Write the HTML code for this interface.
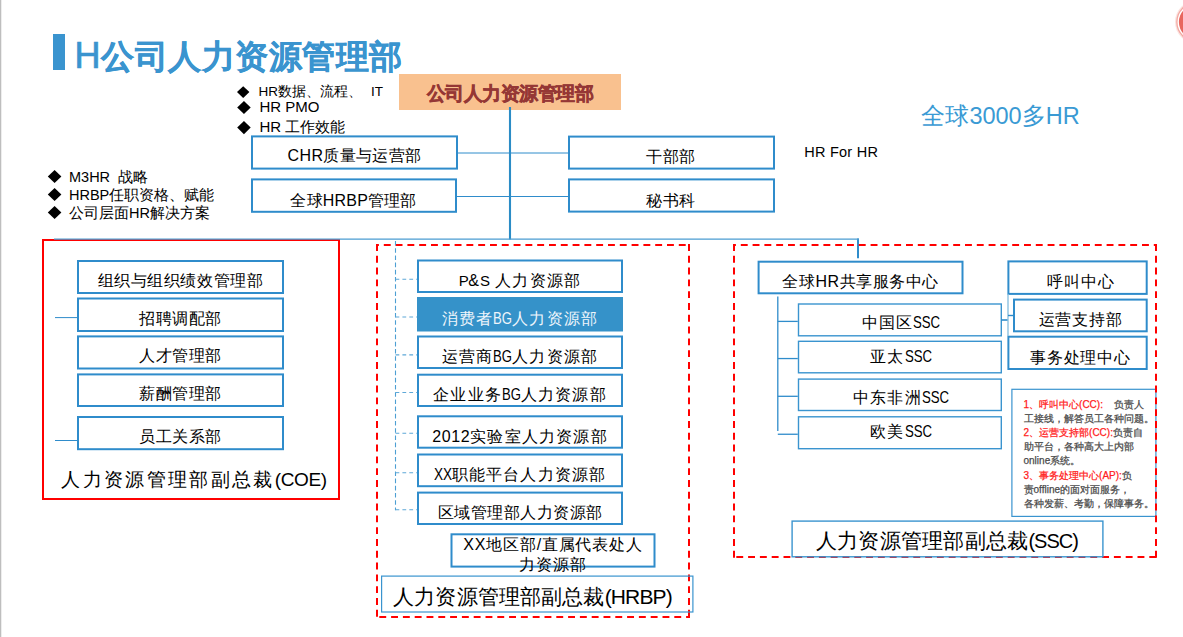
<!DOCTYPE html>
<html><head><meta charset="utf-8"><style>
html,body{margin:0;padding:0;background:#fff;}
body{width:1183px;height:637px;position:relative;overflow:hidden;font-family:"Liberation Sans",sans-serif;}
svg{position:absolute;left:0;top:0;}
.t{position:absolute;white-space:nowrap;}
.r{color:#ff2020;}
</style></head><body>
<svg width="1183" height="637" viewBox="0 0 1183 637">
<rect x="53" y="34" width="12" height="36" fill="#3a94cf"/>
<rect x="399" y="74" width="222" height="36" fill="#f9c18f"/>
<line x1="510" y1="107" x2="510" y2="239.5" stroke="#2b8cc6" stroke-width="2.1"/>
<line x1="858" y1="238.6" x2="858" y2="258.2" stroke="#2f8ccb" stroke-width="2"/>
<rect x="252.00" y="136.40" width="205.00" height="32.20" fill="none" stroke="#2f8ccb" stroke-width="2"/>
<rect x="252.00" y="179.40" width="204.00" height="32.40" fill="none" stroke="#2f8ccb" stroke-width="2"/>
<rect x="569.00" y="136.60" width="205.00" height="32.00" fill="none" stroke="#2f8ccb" stroke-width="2"/>
<rect x="569.00" y="179.40" width="205.00" height="32.20" fill="none" stroke="#2f8ccb" stroke-width="2"/>
<line x1="458" y1="153" x2="568" y2="153" stroke="#2f8ccb" stroke-width="1"/>
<line x1="457" y1="196.5" x2="568" y2="196.5" stroke="#2f8ccb" stroke-width="1"/>
<polygon points="243.2,86.2 249.4,92.1 243.2,98 237,92.1" fill="#000"/>
<polygon points="243.95,101 250.7,107.5 243.95,114 237.2,107.5" fill="#000"/>
<polygon points="243.95,121 250.7,127.6 243.95,134.2 237.2,127.6" fill="#000"/>
<polygon points="54.599999999999994,170 61.4,176.5 54.599999999999994,183 47.8,176.5" fill="#000"/>
<polygon points="54.599999999999994,188 61.4,194.5 54.599999999999994,201 47.8,194.5" fill="#000"/>
<polygon points="54.599999999999994,206 61.4,212.5 54.599999999999994,219 47.8,212.5" fill="#000"/>
<rect x="43.00" y="240.00" width="296.00" height="259.00" fill="none" stroke="#ff0000" stroke-width="2"/>
<line x1="54" y1="239.1" x2="858.9" y2="239.1" stroke="#4a9cd2" stroke-width="1.1"/>
<rect x="78.00" y="261.00" width="205.00" height="32.00" fill="none" stroke="#2f8ccb" stroke-width="2"/>
<rect x="78.00" y="298.50" width="205.00" height="32.50" fill="none" stroke="#2f8ccb" stroke-width="2"/>
<rect x="78.00" y="336.40" width="205.00" height="32.10" fill="none" stroke="#2f8ccb" stroke-width="2"/>
<rect x="78.00" y="374.40" width="205.00" height="31.60" fill="none" stroke="#2f8ccb" stroke-width="2"/>
<rect x="78.00" y="417.00" width="205.00" height="32.20" fill="none" stroke="#2f8ccb" stroke-width="2"/>
<line x1="55" y1="317.6" x2="77" y2="317.6" stroke="#2f8ccb" stroke-width="1"/>
<line x1="55" y1="440.5" x2="77" y2="440.5" stroke="#2f8ccb" stroke-width="1"/>
<line x1="376.0" y1="245.0" x2="690.0" y2="245.0" stroke="#ff0000" stroke-width="2" stroke-dasharray="6.9 4.9" stroke-dashoffset="4.0"/>
<line x1="377.0" y1="244.0" x2="377.0" y2="618.0" stroke="#ff0000" stroke-width="2" stroke-dasharray="6.9 4.9" stroke-dashoffset="0"/>
<line x1="689.0" y1="244.0" x2="689.0" y2="618.0" stroke="#ff0000" stroke-width="2" stroke-dasharray="6.9 4.9" stroke-dashoffset="0"/>
<line x1="376.0" y1="617.0" x2="690.0" y2="617.0" stroke="#ff0000" stroke-width="2" stroke-dasharray="6.9 4.9" stroke-dashoffset="8.5"/>
<line x1="395.5" y1="241" x2="395.5" y2="510.3" stroke="#4d9fd3" stroke-width="1.1" stroke-dasharray="4.6 2.6"/>
<rect x="418.00" y="260.50" width="204.00" height="31.50" fill="none" stroke="#2f8ccb" stroke-width="2"/>
<line x1="395.5" y1="279.3" x2="417" y2="279.3" stroke="#5ea8d8" stroke-width="1.1" stroke-dasharray="3.8 3.1"/>
<rect x="417" y="297" width="206" height="34.5" fill="#3592c9"/>
<line x1="395.5" y1="317" x2="417" y2="317" stroke="#5ea8d8" stroke-width="1.1" stroke-dasharray="3.8 3.1"/>
<rect x="418.00" y="336.50" width="204.00" height="31.50" fill="none" stroke="#2f8ccb" stroke-width="2"/>
<line x1="395.5" y1="354.9" x2="417" y2="354.9" stroke="#5ea8d8" stroke-width="1.1" stroke-dasharray="3.8 3.1"/>
<rect x="418.00" y="374.70" width="204.00" height="31.30" fill="none" stroke="#2f8ccb" stroke-width="2"/>
<line x1="395.5" y1="392.5" x2="417" y2="392.5" stroke="#5ea8d8" stroke-width="1.1" stroke-dasharray="3.8 3.1"/>
<rect x="418.00" y="416.30" width="204.00" height="31.40" fill="none" stroke="#2f8ccb" stroke-width="2"/>
<line x1="395.5" y1="433.3" x2="417" y2="433.3" stroke="#5ea8d8" stroke-width="1.1" stroke-dasharray="3.8 3.1"/>
<rect x="418.00" y="454.50" width="204.00" height="31.70" fill="none" stroke="#2f8ccb" stroke-width="2"/>
<line x1="395.5" y1="472.8" x2="417" y2="472.8" stroke="#5ea8d8" stroke-width="1.1" stroke-dasharray="3.8 3.1"/>
<rect x="418.00" y="492.60" width="204.00" height="31.40" fill="none" stroke="#2f8ccb" stroke-width="2"/>
<line x1="395.5" y1="509.7" x2="417" y2="509.7" stroke="#5ea8d8" stroke-width="1.1" stroke-dasharray="3.8 3.1"/>
<rect x="451.50" y="534.30" width="203.00" height="32.30" fill="none" stroke="#2f8ccb" stroke-width="2"/>
<rect x="381.60" y="576.10" width="311.30" height="35.90" fill="none" stroke="#3a94cf" stroke-width="1.2"/>
<rect x="758.60" y="261.70" width="203.90" height="31.60" fill="none" stroke="#2f8ccb" stroke-width="2"/>
<line x1="777.8" y1="296.5" x2="777.8" y2="431" stroke="#2f8ccb" stroke-width="1.3"/>
<rect x="798.50" y="304.00" width="202.80" height="31.80" fill="none" stroke="#3a94cf" stroke-width="1.4"/>
<line x1="777.8" y1="321.4" x2="797.8" y2="321.4" stroke="#2f8ccb" stroke-width="1.3"/>
<rect x="798.50" y="341.30" width="202.80" height="31.50" fill="none" stroke="#3a94cf" stroke-width="1.4"/>
<line x1="777.8" y1="358.55" x2="797.8" y2="358.55" stroke="#2f8ccb" stroke-width="1.3"/>
<rect x="798.50" y="379.10" width="202.80" height="31.40" fill="none" stroke="#3a94cf" stroke-width="1.4"/>
<line x1="777.8" y1="396.29999999999995" x2="797.8" y2="396.29999999999995" stroke="#2f8ccb" stroke-width="1.3"/>
<rect x="798.50" y="416.80" width="202.80" height="31.90" fill="none" stroke="#3a94cf" stroke-width="1.4"/>
<line x1="777.8" y1="434.25" x2="797.8" y2="434.25" stroke="#2f8ccb" stroke-width="1.3"/>
<rect x="1008.40" y="261.40" width="138.30" height="32.50" fill="none" stroke="#2f8ccb" stroke-width="2"/>
<rect x="1014.00" y="299.60" width="132.70" height="31.70" fill="none" stroke="#2f8ccb" stroke-width="2"/>
<rect x="1008.40" y="336.70" width="138.30" height="32.30" fill="none" stroke="#2f8ccb" stroke-width="2"/>
<line x1="1001" y1="320" x2="1008" y2="320" stroke="#2f8ccb" stroke-width="1.6"/>
<line x1="1008" y1="294" x2="1008" y2="336" stroke="#8cc0e0" stroke-width="1.4"/>
<line x1="1008" y1="315.5" x2="1013" y2="315.5" stroke="#2f8ccb" stroke-width="1.4"/>
<rect x="1011.90" y="389.30" width="144.00" height="127.10" fill="none" stroke="#3a94cf" stroke-width="1.2"/>
<line x1="733.0" y1="245.0" x2="1157.0" y2="245.0" stroke="#ff0000" stroke-width="2" stroke-dasharray="6.9 4.9" stroke-dashoffset="4.0"/>
<line x1="734.0" y1="244.0" x2="734.0" y2="558.0" stroke="#ff0000" stroke-width="2" stroke-dasharray="6.9 4.9" stroke-dashoffset="0"/>
<line x1="1156.0" y1="244.0" x2="1156.0" y2="558.0" stroke="#ff0000" stroke-width="2" stroke-dasharray="6.9 4.9" stroke-dashoffset="0"/>
<line x1="733.0" y1="557.0" x2="1157.0" y2="557.0" stroke="#ff0000" stroke-width="2" stroke-dasharray="6.9 4.9" stroke-dashoffset="8.5"/>
<rect x="792.10" y="521.10" width="310.80" height="35.70" fill="none" stroke="#3a94cf" stroke-width="1.4"/>
<rect x="0" y="0" width="1" height="637" fill="#bebebe"/><rect x="1" y="0" width="0.6" height="637" fill="#e2e2e2"/>
<circle cx="1196.5" cy="22" r="21.5" fill="#fbe3e0"/><circle cx="1196.5" cy="22" r="20.3" fill="#f3a9a2"/><circle cx="1196.5" cy="22" r="19" fill="#fff"/><circle cx="1196.5" cy="22" r="17.6" fill="#e8675e"/>
</svg>
<div class="t" style="left:74.60px;top:30.50px;font-size:36px;line-height:50px;color:#3a94cf;text-align:left;-webkit-text-stroke:0.7px #3a94cf;">H</div>
<div class="t" style="left:101.20px;top:31.80px;font-size:33px;line-height:50px;color:#3a94cf;letter-spacing:0.5px;font-weight:bold;text-align:left;-webkit-text-stroke:0.3px #3a94cf;">公司人力资源管理部</div>
<div class="t" style="left:399.20px;top:80.50px;font-size:18.5px;line-height:26px;color:#953735;width:222px;letter-spacing:-0.5px;font-weight:bold;text-align:center;-webkit-text-stroke:0.5px #953735;">公司人力资源管理部</div>
<div class="t" style="left:254.50px;top:145.30px;font-size:16px;line-height:22px;color:#000;width:200px;letter-spacing:0.35px;text-align:center;">CHR质量与运营部</div>
<div class="t" style="left:253.50px;top:189.50px;font-size:16px;line-height:22px;color:#000;width:200px;letter-spacing:0.2px;text-align:center;">全球HRBP管理部</div>
<div class="t" style="left:571.00px;top:146.00px;font-size:16px;line-height:22px;color:#000;width:200px;letter-spacing:0.5px;text-align:center;">干部部</div>
<div class="t" style="left:571.00px;top:190.00px;font-size:16px;line-height:22px;color:#000;width:200px;letter-spacing:0.5px;text-align:center;">秘书科</div>
<div class="t" style="left:258.50px;top:83.00px;font-size:13.5px;line-height:18px;color:#000;text-align:left;">HR数据、流程、<span style="margin-left:9px">IT</span></div>
<div class="t" style="left:259.50px;top:98.00px;font-size:15px;line-height:18px;color:#000;text-align:left;">HR PMO</div>
<div class="t" style="left:259.50px;top:118.00px;font-size:15px;line-height:18px;color:#000;text-align:left;">HR 工作效能</div>
<div class="t" style="left:804.20px;top:143.00px;font-size:14.5px;line-height:18px;color:#000;letter-spacing:0.25px;text-align:left;">HR For HR</div>
<div class="t" style="left:921.40px;top:101.00px;font-size:23.5px;line-height:30px;color:#3a9ad4;text-align:left;">全球3000多HR</div>
<div class="t" style="left:69.00px;top:168.00px;font-size:14.5px;line-height:18px;color:#000;text-align:left;">M3HR&nbsp; 战略</div>
<div class="t" style="left:69.00px;top:186.00px;font-size:14.5px;line-height:18px;color:#000;text-align:left;">HRBP任职资格、赋能</div>
<div class="t" style="left:69.00px;top:204.00px;font-size:14.5px;line-height:18px;color:#000;text-align:left;">公司层面HR解决方案</div>
<div class="t" style="left:77.00px;top:270.00px;font-size:16px;line-height:22px;color:#000;width:207px;letter-spacing:0.6px;text-align:center;">组织与组织绩效管理部</div>
<div class="t" style="left:77.00px;top:307.75px;font-size:16px;line-height:22px;color:#000;width:207px;letter-spacing:0.6px;text-align:center;">招聘调配部</div>
<div class="t" style="left:77.00px;top:345.45px;font-size:16px;line-height:22px;color:#000;width:207px;letter-spacing:0.6px;text-align:center;">人才管理部</div>
<div class="t" style="left:77.00px;top:383.20px;font-size:16px;line-height:22px;color:#000;width:207px;letter-spacing:0.6px;text-align:center;">薪酬管理部</div>
<div class="t" style="left:77.00px;top:426.10px;font-size:16px;line-height:22px;color:#000;width:207px;letter-spacing:0.6px;text-align:center;">员工关系部</div>
<div class="t" style="left:44.00px;top:466.00px;font-size:19px;line-height:28px;color:#000;width:300px;letter-spacing:2.35px;text-align:center;">人力资源管理部副总裁<span style="letter-spacing:-0.4px;">(COE)</span></div>
<div class="t" style="left:417.00px;top:269.95px;font-size:16px;line-height:22px;color:#000;width:206px;letter-spacing:1.2px;text-align:center;"><span style="letter-spacing:-0.5px;font-size:15px;">P</span>&amp;<span style="letter-spacing:-0.5px;font-size:15px;">S</span> 人力资源部</div>
<div class="t" style="left:417.00px;top:307.95px;font-size:16px;line-height:22px;color:#eef5fb;width:206px;letter-spacing:1.2px;text-align:center;">消费者<span style="letter-spacing:0px;font-size:16px;display:inline-block;transform:scaleX(0.82);transform-origin:0 50%;margin-right:-4.16px;">BG</span>人力资源部</div>
<div class="t" style="left:417.00px;top:345.95px;font-size:16px;line-height:22px;color:#000;width:206px;letter-spacing:1.2px;text-align:center;">运营商<span style="letter-spacing:0px;font-size:16px;display:inline-block;transform:scaleX(0.82);transform-origin:0 50%;margin-right:-4.16px;">BG</span>人力资源部</div>
<div class="t" style="left:417.00px;top:384.05px;font-size:16px;line-height:22px;color:#000;width:206px;letter-spacing:1.2px;text-align:center;">企业业务<span style="letter-spacing:0px;font-size:16px;display:inline-block;transform:scaleX(0.82);transform-origin:0 50%;margin-right:-4.16px;">BG</span>人力资源部</div>
<div class="t" style="left:417.00px;top:425.70px;font-size:16px;line-height:22px;color:#000;width:206px;letter-spacing:1.2px;text-align:center;"><span style="letter-spacing:0.6px;font-size:16px;">2012</span>实验室人力资源部</div>
<div class="t" style="left:417.00px;top:464.05px;font-size:16px;line-height:22px;color:#000;width:206px;letter-spacing:1.2px;text-align:center;"><span style="letter-spacing:0px;font-size:16px;display:inline-block;transform:scaleX(0.85);transform-origin:0 50%;margin-right:-3.20px;">XX</span>职能平台人力资源部</div>
<div class="t" style="left:417.00px;top:502.00px;font-size:16px;line-height:22px;color:#000;width:206px;letter-spacing:0.5px;text-align:center;">区域管理部人力资源部</div>
<div class="t" style="left:450.50px;top:535.00px;font-size:16px;line-height:20px;color:#000;width:205px;letter-spacing:0.8px;text-align:center;">XX地区部/直属代表处人<br>力资源部</div>
<div class="t" style="left:382.50px;top:581.50px;font-size:21px;line-height:30px;color:#000;width:300px;letter-spacing:0.15px;text-align:center;">人力资源管理部副总裁<span style="letter-spacing:-0.85px;">(HRBP)</span></div>
<div class="t" style="left:757.50px;top:270.50px;font-size:16px;line-height:22px;color:#000;width:206px;letter-spacing:0.5px;text-align:center;">全球HR共享服务中心</div>
<div class="t" style="left:799.00px;top:310.90px;font-size:15.5px;line-height:22px;color:#000;width:204px;letter-spacing:1.2px;text-align:center;">中国区<span style="letter-spacing:0px;font-size:16.5px;display:inline-block;transform:scaleX(0.8);transform-origin:0 50%;margin-right:-6.79px;">SSC</span></div>
<div class="t" style="left:799.00px;top:345.05px;font-size:15.5px;line-height:22px;color:#000;width:204px;letter-spacing:1.2px;text-align:center;">亚太<span style="letter-spacing:0px;font-size:16.5px;display:inline-block;transform:scaleX(0.8);transform-origin:0 50%;margin-right:-6.79px;">SSC</span></div>
<div class="t" style="left:799.00px;top:385.80px;font-size:15.5px;line-height:22px;color:#000;width:204px;letter-spacing:1.2px;text-align:center;">中东非洲<span style="letter-spacing:0px;font-size:16.5px;display:inline-block;transform:scaleX(0.8);transform-origin:0 50%;margin-right:-6.79px;">SSC</span></div>
<div class="t" style="left:799.00px;top:420.25px;font-size:15.5px;line-height:22px;color:#000;width:204px;letter-spacing:1.2px;text-align:center;">欧美<span style="letter-spacing:0px;font-size:16.5px;display:inline-block;transform:scaleX(0.8);transform-origin:0 50%;margin-right:-6.79px;">SSC</span></div>
<div class="t" style="left:1011.00px;top:271.00px;font-size:16px;line-height:22px;color:#000;width:140px;letter-spacing:0.8px;text-align:center;">呼叫中心</div>
<div class="t" style="left:1010.50px;top:308.50px;font-size:16px;line-height:22px;color:#000;width:140px;letter-spacing:0.8px;text-align:center;">运营支持部</div>
<div class="t" style="left:1010.50px;top:346.50px;font-size:16px;line-height:22px;color:#000;width:140px;letter-spacing:0.8px;text-align:center;">事务处理中心</div>
<div class="t" style="left:1023.50px;top:398.30px;font-size:10px;line-height:14.05px;color:#4a4a4a;text-align:left;-webkit-text-stroke:0.25px currentColor;"><span class="r">1、呼叫中心(CC):</span>&nbsp;&nbsp;&nbsp;&nbsp;负责人<br>工接线，解答员工各种问题。<br><span class="r">2、运营支持部(CC):</span>负责自<br>助平台，各种高大上内部<br>online系统。<br><span class="r">3、事务处理中心(AP):</span>负<br>责offline的面对面服务，<br>各种发薪、考勤，保障事务。</div>
<div class="t" style="left:791.80px;top:526.00px;font-size:21px;line-height:30px;color:#000;width:310px;letter-spacing:0.27px;text-align:center;">人力资源管理部副总裁<span style="letter-spacing:-1px;font-size:20px;">(SSC)</span></div>
</body></html>
